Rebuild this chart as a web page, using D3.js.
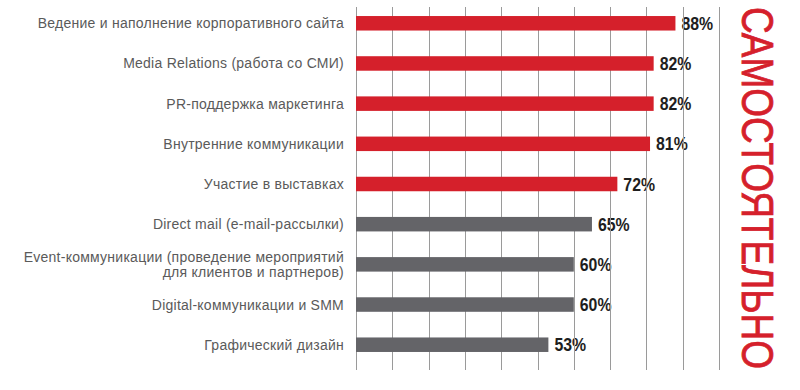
<!DOCTYPE html>
<html>
<head>
<meta charset="utf-8">
<script src="https://cdn.jsdelivr.net/npm/d3@7"></script>
<style>
  body { margin: 0; background: #fff; }
  svg { display: block; }
</style>
</head>
<body>
<svg></svg>
<script>
// survey data: share of companies doing it in-house
const categories = [
    ['Ведение и наполнение корпоративного сайта'],
    ['Media Relations (работа со СМИ)'],
    ['PR-поддержка маркетинга'],
    ['Внутренние коммуникации'],
    ['Участие в выставках'],
    ['Direct mail (e-mail-рассылки)'],
    ['Event-коммуникации (проведение мероприятий', 'для клиентов и партнеров)'],
    ['Digital-коммуникации и SMM'],
    ['Графический дизайн']
];
const values = [88, 82, 82, 81, 72, 65, 60, 60, 53];
const highlighted = [true, true, true, true, true, false, false, false, false];
const gridTicks = [0, 10, 20, 30, 40, 50, 60, 70, 80, 90, 100];
const title = 'САМОСТОЯТЕЛЬНО';

const width = 800, height = 390;
const svg = d3.select('svg')
    .attr('width', width)
    .attr('height', height);

const x = d3.scaleLinear()
    .domain([0, 100])
    .range([356, 719]);

const y = d3.scaleBand()
    .domain(d3.range(categories.length))
    .range([4, 364])
    .paddingInner(0.64)
    .paddingOuter(0.3);

const barH = 14.5;
const red = '#d5202b', grey = '#646468';

// value labels (drawn under the grid, like the original)
svg.append('g')
    .selectAll('text')
    .data(values)
    .join('text')
    .attr('transform', (d, i) => `translate(${x(d) + 6}, ${y(i) + y.bandwidth() / 2 + 6.5}) scale(0.88, 1)`)
    .attr('font-family', 'Liberation Sans, Arial, sans-serif')
    .attr('font-weight', 'bold')
    .attr('font-size', 18)
    .attr('fill', '#1e1e1e')
    .text(d => d + '%');

// vertical grid
svg.append('g')
    .selectAll('line')
    .data(gridTicks)
    .join('line')
    .attr('x1', d => Math.round(x(d)) + 0.5)
    .attr('x2', d => Math.round(x(d)) + 0.5)
    .attr('y1', 7)
    .attr('y2', 370)
    .attr('stroke', '#9a9a9a')
    .attr('stroke-width', 1);

// bars
svg.append('g')
    .selectAll('rect')
    .data(values)
    .join('rect')
    .attr('x', x(0))
    .attr('y', (d, i) => y(i) + y.bandwidth() / 2 - barH / 2)
    .attr('width', d => x(d) - x(0))
    .attr('height', barH)
    .attr('fill', (d, i) => highlighted[i] ? red : grey);

// category labels
const labels = svg.append('g')
    .attr('font-family', 'Liberation Sans, Arial, sans-serif')
    .attr('font-size', 14)
    .attr('letter-spacing', 0.25)
    .attr('fill', '#5a5a5a')
    .attr('text-anchor', 'end');

labels.selectAll('text')
    .data(categories)
    .join('text')
    .attr('x', 344)
    .attr('y', (d, i) => y(i) + y.bandwidth() / 2)
    .each(function(lines) {
        const t = d3.select(this);
        const lh = 15.5;
        lines.forEach((line, k) => {
            t.append('tspan')
                .attr('x', 344)
                .attr('dy', k === 0 ? (5 - (lines.length - 1) * lh / 2) : lh)
                .text(line);
        });
    });

// vertical title on the right, squeezed to fit the chart height
const titleLen = 362;
const titleText = svg.append('text')
    .attr('font-family', 'Liberation Sans, Arial, sans-serif')
    .attr('font-size', 44)
    .attr('fill', red)
    .attr('stroke', red)
    .attr('stroke-width', 0.8)
    .text(title);
const natural = titleText.node().getComputedTextLength();
titleText.attr('transform', `translate(742, 7) rotate(90) scale(${titleLen / natural}, 1)`);
</script>
</body>
</html>
